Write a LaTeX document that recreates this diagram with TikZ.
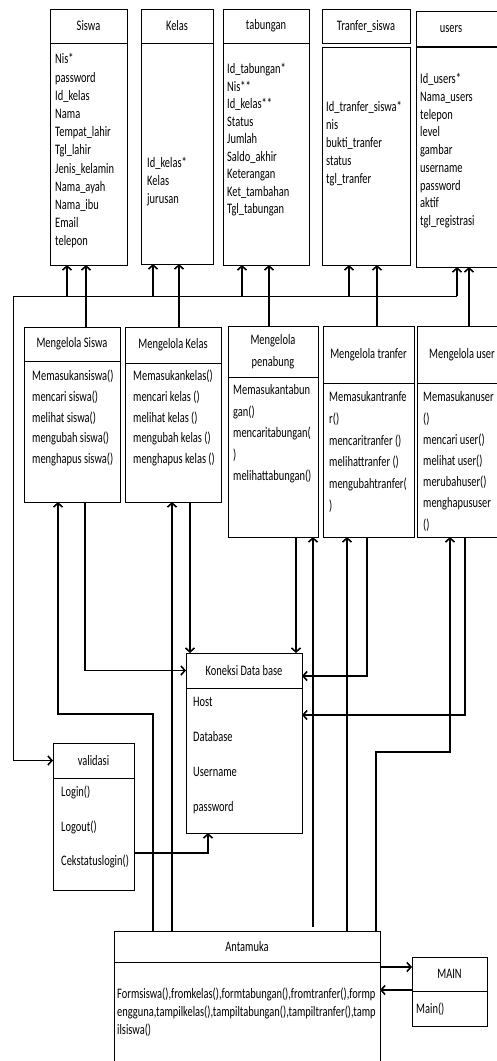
\documentclass[tikz,border=0pt]{standalone}
\usepackage{fontspec}
\setmainfont{Carlito}[FakeStretch=0.72]
\usetikzlibrary{arrows.meta}
\newcommand\firststrut{\rule{0pt}{12.6pt}}
\newcommand\cbox[6]{%
  \node[box, minimum width={#4-#2}, minimum height={#5-#3}] (#1-h) at (#2,#3) {};
  \node[box, minimum width={#4-#2}, minimum height={#6-#5}] (#1-b) at (#2,#5) {};}
\begin{document}
\begin{tikzpicture}[x=1pt,y=-1pt,
  box/.style={draw, line width=1pt, inner sep=0pt, outer sep=0pt, anchor=north west, rectangle},
  ttl/.style={inner sep=0pt, font=\fontsize{14.5}{18}\selectfont},
  bt/.style={anchor=north west, inner sep=0pt, align=left, font=\fontsize{14.5}{#1}\selectfont},
  thk/.style={line width=1.8pt},
  med/.style={line width=1.3pt},
  thn/.style={line width=1pt},
  barb/.style={-{Straight Barb[length=4pt,width=9pt,line width=1.6pt]}},
  ]
\useasboundingbox (0,0) rectangle (497,1061);
\clip (0,0) rectangle (497,1061);
% ---------- entity boxes ----------
\cbox{siswa}{50}{9}{127}{43}{265}
\cbox{kelas}{141}{9}{213}{43}{264}
\cbox{tab}{223}{9}{309}{43}{265}
\node[box, minimum width=88, minimum height=34] (tr-h) at (322,9) {};
\node[box, minimum width=88, minimum height=218] (tr-b) at (322,47) {};
\cbox{users}{416}{11}{520}{47}{267}
\draw[line width=2pt] (users-h.south west) -- (users-h.south east);
% ---------- controller boxes ----------
\cbox{ms}{24}{327}{120}{361}{502}
\cbox{mk}{125}{327}{221}{363}{502}
\cbox{mp}{228}{326}{318}{377}{537}
\cbox{mt}{323}{326}{414}{383}{537}
\cbox{mu}{417}{326}{520}{383}{537}
% ---------- other boxes ----------
\cbox{kon}{186}{653}{302}{688}{833}
\cbox{val}{53}{743}{134}{778}{890}
\cbox{ant}{114}{931}{380}{962}{1080}
\cbox{main}{412}{957}{487}{991}{1026}
% ---------- titles ----------
\node[ttl] (siswa-t) at (siswa-h.center) {Siswa};
\node[ttl] (kelas-t) at (kelas-h.center) {Kelas};
\node[ttl] (tab-t) at (tab-h.center) {tabungan};
\node[ttl] (tr-t) at (tr-h.center) {Tranfer\_siswa};
\node[ttl] (users-t) at (users-h.center -| 451,0) {users};
\node[ttl] (ms-t) at (ms-h.center) {Mengelola Siswa};
\node[ttl] (mk-t) at (mk-h.center) {Mengelola Kelas};
\node[ttl, align=center, font=\fontsize{14.5}{22}\selectfont] (mp-t) at (mp-h.center) {Mengelola\\penabung};
\node[ttl] (mt-t) at (mt-h.center) {Mengelola tranfer};
\node[ttl] (mu-t) at (mu-h.center -| 462,0) {Mengelola user};
\node[ttl] (kon-t) at (kon-h.center) {Koneksi Data base};
\node[ttl] (val-t) at (val-h.center) {validasi};
\node[ttl] (ant-t) at (ant-h.center) {Antamuka};
\node[ttl] (main-t) at (main-h.center) {MAIN};
% ---------- body texts ----------
\node[bt=18.2] (siswa-x) at (55,51) {\firststrut Nis*\\password\\Id\_kelas\\Nama\\Tempat\_lahir\\Tgl\_lahir\\Jenis\_kelamin\\Nama\_ayah\\Nama\_ibu\\Email\\telepon};
\node[bt=18] (kelas-x) at (147,155) {\firststrut Id\_kelas*\\Kelas\\jurusan};
\node[bt=17.5] (tab-x) at (227,61) {\firststrut Id\_tabungan*\\Nis**\\Id\_kelas**\\Status\\Jumlah\\Saldo\_akhir\\Keterangan\\Ket\_tambahan\\Tgl\_tabungan};
\node[bt=18] (tr-x) at (326,99) {\firststrut Id\_tranfer\_siswa*\\nis\\bukti\_tranfer\\status\\tgl\_tranfer};
\node[bt=17.7] (users-x) at (420,71) {\firststrut Id\_users*\\Nama\_users\\telepon\\level\\gambar\\username\\password\\aktif\\tgl\_registrasi};
\node[bt=20.7] (ms-x) at (32,368) {\firststrut Memasukansiswa()\\mencari siswa()\\melihat siswa()\\mengubah siswa()\\menghapus siswa()};
\node[bt=20.7] (mk-x) at (133,368) {\firststrut Memasukankelas()\\mencari kelas ()\\melihat kelas ()\\mengubah kelas ()\\menghapus kelas ()};
\node[bt=21.5] (mp-x) at (233,382) {\firststrut Memasukantabun\\gan()\\mencaritabungan(\\)\\melihattabungan()};
\node[bt=21.7] (mt-x) at (329,389) {\firststrut Memasukantranfe\\r()\\mencaritranfer ()\\melihattranfer ()\\mengubahtranfer(\\)};
\node[bt=21.2] (mu-x) at (423,389) {\firststrut Memasukanuser\\()\\mencari user()\\melihat user()\\merubahuser()\\menghapususer\\()};
\node[bt=35] (kon-x) at (193,694) {\firststrut Host\\Database\\Username\\password};
\node[bt=34.5] (val-x) at (61,784) {\firststrut Login()\\Logout()\\Cekstatuslogin()};
\node[bt=18] (ant-x) at (117,986) {\firststrut Formsiswa(),fromkelas(),formtabungan(),fromtranfer(),formp\\engguna,tampilkelas(),tampiltabungan(),tampiltranfer(),tamp\\ilsiswa()};
\node[bt=18] (main-x) at (416,1001) {\firststrut Main()};
% ---------- bus to entities ----------
\coordinate (busL) at (13,296);
\coordinate (busR) at (457,296);
\draw[thn] (busL) -- (busR);
\draw[thn] (busL) -- (busL |- val-h.west);
\draw[thk,barb] (busL |- val-h.west) -- (val-h.west);
\foreach \xx/\nn in {67/siswa,153/kelas,242/tab,349/tr,457/users}
  \draw[thk,barb] (busL -| \xx,0) -- (\nn-b.south -| \xx,0);
% ---------- controllers to entities ----------
\draw[thk,barb] (ms-h.north -| 86,0) -- (siswa-b.south -| 86,0);
\draw[thk,barb] (mk-h.north -| 179,0) -- (kelas-b.south -| 179,0);
\draw[thk,barb] (mp-h.north -| 269,0) -- (tab-b.south -| 269,0);
\draw[thk,barb] (mt-h.north -| 377,0) -- (tr-b.south -| 377,0);
\draw[thk,barb] (mu-h.north -| 469,0) -- (users-b.south -| 469,0);
% ---------- controllers to Koneksi ----------
\draw[med,barb] (ms-b.south -| 85,0) |- (kon-h.west);
\draw[med,barb] (mk-b.south -| 190,0) -- (kon-h.north -| 190,0);
\draw[med,barb] (mp-b.south -| 296,0) -- (kon-h.north -| 296,0);
\draw[med,barb] (mt-b.south -| 367,0) |- (kon-h.east |- 0,676);
\draw[med,barb] (mu-b.south -| 465,0) |- (kon-b.east |- 0,715);
% ---------- Antamuka to controllers ----------
\draw[med,barb] (ant-h.north -| 153,0) -- (153,714) -| (ms-b.south -| 58,0);
\draw[thk,barb] (ant-h.north -| 172,0) -- (mk-b.south -| 172,0);
\draw[thk,barb] (ant-h.north -| 313,0) ++(0,-4) -- (mp-b.south -| 313,0);
\draw[thk,barb] (ant-h.north -| 347,0) -- (mt-b.south -| 347,0);
\draw[med,barb] (ant-h.north -| 376,0) -- (376,752) -| (mu-b.south -| 450,0);
% ---------- validasi to Koneksi ----------
\draw[med,barb] (val-b.east |- 0,853) -| (kon-b.south -| 208,0);
% ---------- Antamuka <-> MAIN ----------
\draw[thk,barb] (ant-b.east |- 0,967) -- (main-h.west |- 0,967);
\draw[thk,barb] (main-b.west |- 0,990) -- (ant-b.east |- 0,990);
\end{tikzpicture}
\end{document}
